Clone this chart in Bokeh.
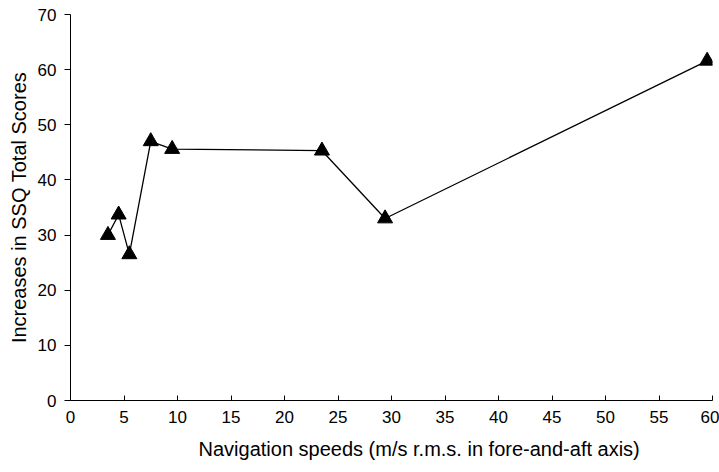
from bokeh.plotting import figure
from bokeh.models import Range1d, FixedTicker, Title
from bokeh.embed import file_html
from bokeh.resources import INLINE

speeds = [3.5, 4.5, 5.5, 7.5, 9.5, 23.5, 29.4, 59.5]
ssq = [30.0, 33.7, 26.5, 47.0, 45.6, 45.3, 33.0, 61.6]
x_ticks = [0, 5, 10, 15, 20, 25, 30, 35, 40, 45, 50, 55, 60]
y_ticks = [0, 10, 20, 30, 40, 50, 60, 70]
x_title = "Navigation speeds (m/s r.m.s. in fore-and-aft axis)"
y_title = "Increases in SSQ Total Scores"

FONT = "Liberation Sans"

p = figure(width=719, height=472, output_backend="svg", toolbar_location=None,
           x_range=Range1d(0, 60), y_range=Range1d(0, 70),
           min_border_left=69, min_border_right=7, min_border_top=14, min_border_bottom=72)
p.outline_line_color = None
p.grid.visible = False

p.line(speeds, ssq, line_color="black", line_width=1.3)
p.scatter(speeds, ssq, marker="triangle", size=15, fill_color="black", line_color="black")

xa = p.xaxis[0]
xa.ticker = FixedTicker(ticks=x_ticks)
xa.major_tick_in = 5
xa.major_tick_out = 0
xa.minor_tick_line_color = None
xa.major_label_standoff = 10

ya = p.yaxis[0]
ya.ticker = FixedTicker(ticks=y_ticks)
ya.major_tick_in = 0
ya.major_tick_out = 6
ya.minor_tick_line_color = None
ya.major_label_standoff = 8

for ax in (xa, ya):
    ax.axis_line_color = "black"
    ax.major_tick_line_color = "black"
    ax.major_label_text_font = FONT
    ax.major_label_text_font_size = "17px"
    ax.major_label_text_color = "black"

xt = Title(text=x_title, align="left", offset=128, standoff=20,
           text_font=FONT, text_font_size="20px", text_font_style="normal", text_color="black")
p.add_layout(xt, "below")
yt = Title(text=y_title, align="center", offset=5, standoff=10,
           text_font=FONT, text_font_size="20px", text_font_style="normal", text_color="black")
p.add_layout(yt, "left")

open("out.html", "w").write(file_html(p, INLINE))
